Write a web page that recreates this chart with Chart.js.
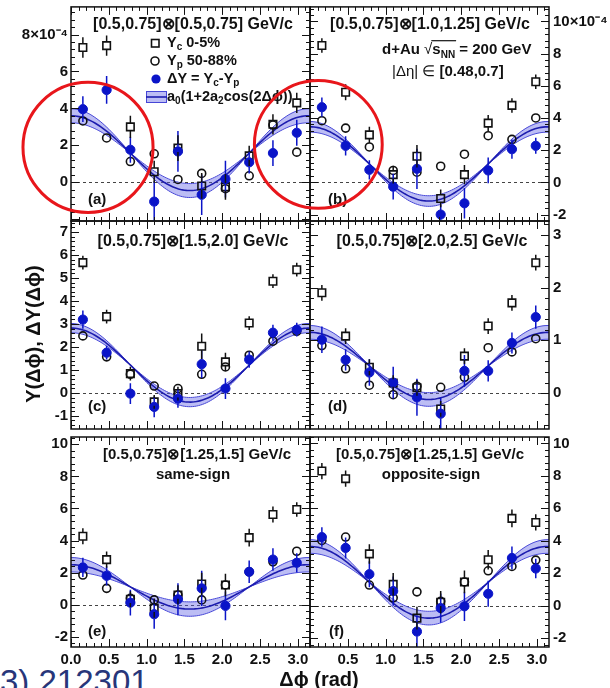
<!DOCTYPE html>
<html>
<head>
<meta charset="utf-8">
<script src="https://cdn.jsdelivr.net/npm/chart.js@4.4.1/dist/chart.umd.min.js"></script>
<style>
  html, body { margin: 0; padding: 0; background: #fff; overflow: hidden; }
  #fig { position: relative; width: 610px; height: 688px; overflow: hidden; }
  #fig canvas { position: absolute; left: 0; top: 0; }
  #ref { position: absolute; left: 0; top: 665px; font: 33px "Liberation Sans", Arial, sans-serif; color: #27367a; line-height: 1; white-space: nowrap; }
</style>
</head>
<body>
<div id="fig"><div id="ref">3) 212301</div></div>
<script>
const FONT = '"Liberation Sans", Arial, Helvetica, sans-serif';
const INK = '#111';
const BLUE = '#0a14c8';
const BAND = 'rgba(96,98,228,0.42)';
const BAND_EDGE = '#4646d6';
const FIT = '#1c1cae';
const X_MAX = 3.16;

// delta-phi bin centres (rad) and axis ticks
const dphi = [0.157, 0.471, 0.785, 1.100, 1.414, 1.728, 2.042, 2.356, 2.670, 2.985];
const xTicks = [0, 0.5, 1.0, 1.5, 2.0, 2.5, 3.0];

// (a) [0.5,0.75]x[0.5,0.75]
const ycA = [7.3, 7.4, 3.0, 0.57, 1.85, -0.2, -0.25, 1.43, 3.14, 4.3];
const ycErrA = [0.55, 0.55, 0.6, 0.6, 0.7, 0.7, 0.7, 0.55, 0.55, 0.55];
const ypA = [3.32, 2.4, 1.12, 1.54, 0.15, 0.48, -0.35, 0.35, 3.1, 1.63];
const ypErrA = [0.15, 0.15, 0.15, 0.15, 0.15, 0.15, 0.15, 0.15, 0.15, 0.15];
const dyA = [3.96, 5.0, 1.76, -1.05, 1.67, -0.68, 0.17, 1.08, 1.58, 2.68];
const dyErrA = [0.7, 0.75, 0.7, 1.1, 1.1, 1.1, 1.0, 0.6, 0.7, 0.7];
// (b) [0.5,0.75]x[1.0,1.25]
const ycB = [8.5, 5.6, 2.95, 0.48, 1.62, -1.0, 0.48, 3.68, 4.78, 6.25];
const ycErrB = [0.45, 0.5, 0.5, 0.55, 0.7, 0.55, 0.6, 0.5, 0.45, 0.45];
const ypB = [3.83, 3.37, 2.2, 0.74, 0.63, 1.0, 1.75, 2.9, 2.67, 4.0];
const ypErrB = [0.15, 0.15, 0.15, 0.15, 0.15, 0.15, 0.15, 0.15, 0.15, 0.15];
const dyB = [4.67, 2.27, 0.78, -0.27, 0.84, -2.0, -1.3, 0.74, 2.06, 2.27];
const dyErrB = [0.6, 0.6, 0.6, 0.8, 1.25, 0.6, 0.95, 0.8, 0.6, 0.5];
// (c) [0.5,0.75]x[1.5,2.0]
const ycC = [5.67, 3.32, 0.84, -0.39, -0.03, 2.03, 1.35, 3.04, 4.86, 5.36];
const ycErrC = [0.3, 0.3, 0.3, 0.3, 0.3, 0.55, 0.4, 0.3, 0.3, 0.3];
const ypC = [2.48, 1.57, 0.81, 0.3, 0.19, 0.81, 1.13, 1.64, 2.25, 2.68];
const ypErrC = [0.05, 0.05, 0.05, 0.05, 0.05, 0.05, 0.05, 0.05, 0.05, 0.05];
const dyC = [3.19, 1.75, -0.03, -0.61, -0.25, 1.25, 0.19, 1.45, 2.62, 2.75];
const dyErrC = [0.4, 0.3, 0.45, 0.45, 0.4, 0.6, 0.45, 0.35, 0.35, 0.3];
// (d) [0.5,0.75]x[2.0,2.5]
const ycD = [1.9, 1.08, 0.49, 0.19, 0.1, -0.3, 0.7, 1.27, 1.71, 2.47];
const ycErrD = [0.15, 0.15, 0.15, 0.15, 0.15, 0.15, 0.15, 0.15, 0.15, 0.15];
const ypD = [0.9, 0.46, 0.15, -0.03, 0.13, 0.11, 0.3, 0.86, 0.78, 1.03];
const ypErrD = [0.03, 0.03, 0.03, 0.03, 0.03, 0.03, 0.03, 0.03, 0.03, 0.03];
const dyD = [1.01, 0.63, 0.39, 0.2, -0.08, -0.39, 0.42, 0.42, 0.95, 1.44];
const dyErrD = [0.25, 0.2, 0.25, 0.3, 0.35, 0.3, 0.3, 0.2, 0.2, 0.22];
// (e) [0.5,0.75]x[1.25,1.5] same-sign
const ycE = [4.27, 2.82, 0.35, -0.2, 0.62, 1.3, 1.24, 4.19, 5.63, 5.94];
const ycErrE = [0.5, 0.5, 0.5, 0.6, 0.6, 0.7, 0.7, 0.55, 0.5, 0.45];
const ypE = [1.86, 1.03, 0.41, 0.31, 0.62, 0.31, 1.24, 2.06, 2.68, 3.34];
const ypErrE = [0.15, 0.15, 0.15, 0.15, 0.15, 0.15, 0.15, 0.15, 0.15, 0.15];
const dyE = [2.33, 1.81, 0.14, -0.58, 0.35, 1.03, -0.06, 2.06, 2.82, 2.62];
const dyErrE = [0.6, 0.6, 0.8, 0.9, 1.0, 1.1, 0.9, 0.7, 0.7, 0.6];
// (f) [0.5,0.75]x[1.25,1.5] opposite-sign
const ycF = [8.3, 7.83, 3.19, 1.31, -0.77, 0.21, 1.46, 2.83, 5.38, 5.13];
const ycErrF = [0.5, 0.5, 0.6, 0.7, 0.7, 0.7, 0.7, 0.6, 0.55, 0.5];
const ypF = [4.02, 4.23, 1.27, 0.48, 0.85, 0.27, 1.46, 2.15, 2.42, 2.81];
const ypErrF = [0.15, 0.15, 0.15, 0.15, 0.15, 0.15, 0.15, 0.15, 0.15, 0.15];
const dyF = [4.23, 3.56, 1.94, 0.9, -1.6, -0.15, -0.04, 0.73, 2.94, 2.29];
const dyErrF = [0.6, 0.65, 0.8, 0.9, 1.0, 0.9, 0.9, 0.8, 0.7, 0.6];

// a0(1+2a2 cos 2dphi) fit per panel a..f, band from the a2 error
const fitA0 = [1.575, 1.145, 1.21, 0.515, 1.12, 1.44];
const fitA2 = [0.643, 1.007, 0.665, 0.617, 0.616, 0.767];
const fitA2Err = [0.12, 0.144, 0.083, 0.126, 0.2, 0.146];

const yTicksA = [0, 2, 4, 6, 8];
const yTicksB = [-2, 0, 2, 4, 6, 8, 10];
const yTicksC = [-1, 0, 1, 2, 3, 4, 5, 6, 7];
const yTicksD = [0, 1, 2, 3];
const yTicksE = [-2, 0, 2, 4, 6, 8, 10];
const yTicksF = [-2, 0, 2, 4, 6, 8, 10];

const stage = document.getElementById('fig');

function richParts(str) {
  // "Y_{c} 0-5%" -> plain / subscript runs
  return str.split(/(_\{[^}]*\})/).filter(Boolean).map(s => s.startsWith('_{') ? { s: s.slice(2, -1), sub: true } : { s });
}

function drawRich(ctx, parts, x, y, size, align) {
  if (typeof parts === 'string') parts = richParts(parts);
  const fontOf = p => `${p.w || 'bold'} ${p.sub ? Math.round(size * 0.68) : size}px ${FONT}`;
  const widths = parts.map(p => { ctx.font = fontOf(p); return ctx.measureText(p.s).width; });
  const total = widths.reduce((s, w) => s + w, 0);
  let cx = align === 'center' ? x - total / 2 : x;
  let ov = null;
  ctx.textAlign = 'left'; ctx.textBaseline = 'middle'; ctx.fillStyle = INK;
  parts.forEach((p, i) => {
    ctx.font = fontOf(p);
    ctx.fillText(p.s, cx, y + (p.sub ? size * 0.32 : 0));
    if (p.over) { ov = ov || [cx, 0]; ov[1] = cx + widths[i]; }
    cx += widths[i];
  });
  if (ov) {
    ctx.strokeStyle = INK; ctx.lineWidth = 1.2;
    ctx.beginPath(); ctx.moveTo(ov[0] - 1, y - size * 0.62); ctx.lineTo(ov[1] + 1, y - size * 0.62); ctx.stroke();
  }
}

const energyLabel = [{ s: 'd+Au ' }, { s: '√', w: 'normal' }, { s: 's', over: true }, { s: 'NN', sub: true, over: true }, { s: ' = 200 GeV' }];
const etaLabel = [{ s: '|Δη| ∈ ', w: 'normal' }, { s: '[0.48,0.7]' }];

// legend + figure titles + highlight rings, drawn on top of panel (a)
function drawFigureExtras(chart) {
  const ctx = chart.ctx, xs = chart.scales.x, ys = chart.scales.y;
  const rows = [
    { sym: 'rect', text: 'Y_{c} 0-5%', y: 43 },
    { sym: 'ring', text: 'Y_{p} 50-88%', y: 61 },
    { sym: 'dot', text: 'ΔY = Y_{c}-Y_{p}', y: 79 },
    { sym: 'band', text: 'a_{0}(1+2a_{2}cos(2Δϕ))', y: 97 }
  ];
  ctx.save();
  rows.forEach(r => {
    ctx.lineWidth = 1.6; ctx.strokeStyle = INK;
    if (r.sym === 'rect') ctx.strokeRect(151.5, r.y - 3.5, 7.5, 7.5);
    if (r.sym === 'ring') { ctx.beginPath(); ctx.arc(155, r.y, 4, 0, Math.PI * 2); ctx.stroke(); }
    if (r.sym === 'dot') { ctx.fillStyle = BLUE; ctx.beginPath(); ctx.arc(156, r.y, 4.6, 0, Math.PI * 2); ctx.fill(); }
    if (r.sym === 'band') {
      ctx.fillStyle = BAND; ctx.fillRect(146, r.y - 6, 21, 12);
      ctx.strokeStyle = BAND_EDGE; ctx.lineWidth = 1; ctx.strokeRect(146.5, r.y - 5.5, 20, 11);
      ctx.strokeStyle = FIT; ctx.lineWidth = 1.6; ctx.beginPath(); ctx.moveTo(146, r.y); ctx.lineTo(167, r.y); ctx.stroke();
    }
    drawRich(ctx, r.text, 167, r.y, 14.5, 'left');
  });
  // axis titles shared by all panels
  ctx.save();
  ctx.translate(34, 334); ctx.rotate(-Math.PI / 2);
  drawRich(ctx, 'Y(Δϕ), ΔY(Δϕ)', 0, 0, 20, 'center');
  ctx.restore();
  drawRich(ctx, 'Δϕ (rad)', 319, 680, 20, 'center');
  // red rings, centres in panel (a) data units
  ctx.strokeStyle = '#e8161b'; ctx.lineWidth = 3;
  [{ x: 0.225, y: 1.89, r: 0.86 }, { x: 3.27, y: 2.05, r: 0.845 }].forEach(c => {
    const px = xs.getPixelForValue(c.x), py = ys.getPixelForValue(c.y);
    const rad = xs.getPixelForValue(c.x + c.r) - px;
    ctx.beginPath(); ctx.arc(px, py, rad, 0, Math.PI * 2); ctx.stroke();
  });
  ctx.restore();
}

function panelDeco(p) {
  return {
    id: 'deco_' + p.id,
    beforeDatasetsDraw(chart) {
      const { ctx, chartArea: a } = chart;
      const y0 = Math.round(chart.scales.y.getPixelForValue(0)) + 0.5;
      ctx.save(); ctx.strokeStyle = '#444'; ctx.lineWidth = 1; ctx.setLineDash([3, 3]);
      ctx.beginPath(); ctx.moveTo(a.left, y0); ctx.lineTo(a.right, y0); ctx.stroke();
      ctx.restore();
    },
    afterDatasetsDraw(chart) {
      const { ctx, chartArea: a } = chart, ys = chart.scales.y;
      ctx.save();
      ctx.beginPath(); ctx.rect(a.left, a.top, a.right - a.left, a.bottom - a.top); ctx.clip();
      chart.data.datasets.forEach((ds, i) => {
        if (!ds.err) return;
        ctx.strokeStyle = ds.borderColor; ctx.lineWidth = 1.5;
        chart.getDatasetMeta(i).data.forEach((pt, j) => {
          const hi = ys.getPixelForValue(ds.data[j].y + ds.err[j]);
          const lo = ys.getPixelForValue(ds.data[j].y - ds.err[j]);
          ctx.beginPath();
          if (pt.y - ds.errGap > hi) { ctx.moveTo(pt.x, hi); ctx.lineTo(pt.x, pt.y - ds.errGap); }
          if (pt.y + ds.errGap < lo) { ctx.moveTo(pt.x, pt.y + ds.errGap); ctx.lineTo(pt.x, lo); }
          ctx.stroke();
        });
      });
      ctx.restore();
    },
    afterDraw(chart) {
      const { ctx, chartArea: a } = chart, xs = chart.scales.x, ys = chart.scales.y;
      ctx.save();
      ctx.strokeStyle = INK; ctx.lineWidth = 1;
      ctx.beginPath();
      // inward ticks on all four sides
      for (let k = 0; k <= 31; k++) {
        const v = k / 10, px = Math.round(xs.getPixelForValue(v)) + 0.5, len = k % 5 === 0 ? 8 : 4;
        if (v > X_MAX) break;
        ctx.moveTo(px, a.bottom); ctx.lineTo(px, a.bottom - len);
        ctx.moveTo(px, a.top); ctx.lineTo(px, a.top + len);
      }
      const minor = p.yStep / 5;
      for (let k = Math.ceil(p.yMin / minor); k * minor <= p.yMax; k++) {
        const py = Math.round(ys.getPixelForValue(k * minor)) + 0.5, len = k % 5 === 0 ? 8 : 4;
        ctx.moveTo(a.left, py); ctx.lineTo(a.left + len, py);
        ctx.moveTo(a.right, py); ctx.lineTo(a.right - len, py);
      }
      ctx.stroke();
      ctx.lineWidth = 1.5;
      ctx.strokeRect(a.left, a.top, a.right - a.left, a.bottom - a.top);
      p.texts.forEach(t => drawRich(ctx, t.t, t.x, t.y, t.size, t.align || 'left'));
      ctx.restore();
      if (p.extra) p.extra(chart);
    }
  };
}

const panels = [
  { id: 'b', side: 'right', area: [310, 6, 549, 221], yMin: -2.4, yMax: 10.9, yStep: 2, yTicks: yTicksB, expTop: true, bottom: false,
    yc: ycB, ycErr: ycErrB, yp: ypB, ypErr: ypErrB, dy: dyB, dyErr: dyErrB, fit: 1,
    texts: [{ t: '[0.5,0.75]⊗[1.0,1.25] GeV/c', x: 430, y: 25, size: 16, align: 'center' },
            { t: energyLabel, x: 382, y: 50, size: 15 }, { t: etaLabel, x: 392, y: 72, size: 15 },
            { t: '(b)', x: 328, y: 200, size: 15 }] },
  { id: 'c', side: 'left', area: [71, 221, 310, 429], yMin: -1.57, yMax: 7.48, yStep: 1, yTicks: yTicksC, bottom: false,
    yc: ycC, ycErr: ycErrC, yp: ypC, ypErr: ypErrC, dy: dyC, dyErr: dyErrC, fit: 2,
    texts: [{ t: '[0.5,0.75]⊗[1.5,2.0] GeV/c', x: 193, y: 242, size: 16, align: 'center' },
            { t: '(c)', x: 88, y: 407, size: 15 }] },
  { id: 'd', side: 'right', area: [310, 221, 549, 429], yMin: -0.68, yMax: 3.26, yStep: 1, yTicks: yTicksD, bottom: false,
    yc: ycD, ycErr: ycErrD, yp: ypD, ypErr: ypErrD, dy: dyD, dyErr: dyErrD, fit: 3,
    texts: [{ t: '[0.5,0.75]⊗[2.0,2.5] GeV/c', x: 432, y: 242, size: 16, align: 'center' },
            { t: '(d)', x: 328, y: 407, size: 15 }] },
  { id: 'e', side: 'left', area: [71, 437, 310, 647], yMin: -2.62, yMax: 10.45, yStep: 2, yTicks: yTicksE, bottom: true,
    yc: ycE, ycErr: ycErrE, yp: ypE, ypErr: ypErrE, dy: dyE, dyErr: dyErrE, fit: 4,
    texts: [{ t: '[0.5,0.75]⊗[1.25,1.5] GeV/c', x: 197, y: 455, size: 15, align: 'center' },
            { t: 'same-sign', x: 193, y: 475, size: 15, align: 'center' },
            { t: '(e)', x: 88, y: 632, size: 15 }] },
  { id: 'f', side: 'right', area: [310, 437, 549, 647], yMin: -2.55, yMax: 10.4, yStep: 2, yTicks: yTicksF, bottom: true, skipZero: true,
    yc: ycF, ycErr: ycErrF, yp: ypF, ypErr: ypErrF, dy: dyF, dyErr: dyErrF, fit: 5,
    texts: [{ t: '[0.5,0.75]⊗[1.25,1.5] GeV/c', x: 430, y: 455, size: 15, align: 'center' },
            { t: 'opposite-sign', x: 431, y: 475, size: 15, align: 'center' },
            { t: '(f)', x: 329, y: 632, size: 15 }] },
  { id: 'a', side: 'left', area: [71, 6, 310, 221], yMin: -2.1, yMax: 9.5, yStep: 2, yTicks: yTicksA, expTop: true, bottom: false,
    yc: ycA, ycErr: ycErrA, yp: ypA, ypErr: ypErrA, dy: dyA, dyErr: dyErrA, fit: 0, extra: drawFigureExtras,
    texts: [{ t: '[0.5,0.75]⊗[0.5,0.75] GeV/c', x: 193, y: 25, size: 16, align: 'center' },
            { t: '(a)', x: 88, y: 200, size: 15 }] }
];

function makePanel(p) {
  const cv = document.createElement('canvas');
  cv.width = 610; cv.height = 688;
  stage.appendChild(cv);
  const [l, t, r, b] = p.area;
  const xh = p.bottom ? 24 : 0;
  const pad = p.side === 'left'
    ? { left: l - 60, top: t, right: 610 - r, bottom: 688 - b - xh }
    : { left: l, top: t, right: 610 - r - 60, bottom: 688 - b - xh };
  const pts = vals => dphi.map((x, i) => ({ x, y: vals[i] }));
  const xgrid = [];
  for (let i = 0; i <= 120; i++) xgrid.push(X_MAX * i / 120);
  const a0 = fitA0[p.fit], a2 = fitA2[p.fit], da2 = fitA2Err[p.fit];
  const curve = k => xgrid.map(x => ({ x, y: a0 * (1 + 2 * (a2 + k * da2) * Math.cos(2 * x)) }));
  const tickFont = { family: FONT, size: 15, weight: 'bold' };
  const topTick = p.yTicks[p.yTicks.length - 1];
  return new Chart(cv, {
    type: 'scatter',
    data: { datasets: [
      { label: 'ΔY', data: pts(p.dy), err: p.dyErr, errGap: 4.6, pointStyle: 'circle', pointRadius: 4.6, backgroundColor: BLUE, borderColor: BLUE, borderWidth: 1 },
      { label: 'Yc', data: pts(p.yc), err: p.ycErr, errGap: 3.8, pointStyle: 'rect', pointRadius: 5.3, backgroundColor: 'rgba(0,0,0,0)', borderColor: INK, borderWidth: 1.6 },
      { label: 'Yp', data: pts(p.yp), err: p.ypErr, errGap: 4, pointStyle: 'circle', pointRadius: 4, backgroundColor: 'rgba(0,0,0,0)', borderColor: INK, borderWidth: 1.6 },
      { type: 'line', label: 'fit', data: curve(0), borderColor: FIT, borderWidth: 1.6, pointRadius: 0, fill: false },
      { type: 'line', label: 'fit+', data: curve(1), borderColor: BAND_EDGE, borderWidth: 1, pointRadius: 0, fill: '+1', backgroundColor: BAND },
      { type: 'line', label: 'fit-', data: curve(-1), borderColor: BAND_EDGE, borderWidth: 1, pointRadius: 0, fill: false }
    ] },
    options: {
      responsive: false, animation: false, events: [],
      layout: { padding: pad },
      plugins: { legend: { display: false }, tooltip: { enabled: false } },
      scales: {
        x: {
          type: 'linear', min: 0, max: X_MAX, display: p.bottom,
          grid: { display: false, drawTicks: false }, border: { display: false },
          afterBuildTicks: s => { s.ticks = xTicks.map(v => ({ value: v })); },
          afterFit: s => { s.height = xh; s.paddingLeft = 0; s.paddingRight = 0; },
          ticks: { padding: 4, color: INK, font: tickFont, maxRotation: 0, autoSkip: false,
                   callback: v => (p.skipZero && v === 0) ? '' : v.toFixed(1) }
        },
        y: {
          type: 'linear', position: p.side, min: p.yMin, max: p.yMax,
          grid: { display: false, drawTicks: false }, border: { display: false },
          afterBuildTicks: s => { s.ticks = p.yTicks.map(v => ({ value: v })); },
          afterFit: s => { s.width = 60; s.paddingTop = 0; s.paddingBottom = 0; },
          ticks: { padding: p.side === 'left' ? 3 : 4, color: INK, font: tickFont, autoSkip: false,
                   callback: v => (p.expTop && v === topTick) ? v + '×10⁻⁴' : String(v) }
        }
      }
    },
    plugins: [panelDeco(p)]
  });
}

panels.forEach(makePanel);
</script>
</body>
</html>
